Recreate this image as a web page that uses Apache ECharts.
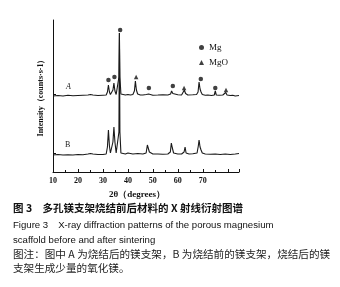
<!DOCTYPE html>
<html><head><meta charset="utf-8">
<script src="https://cdn.jsdelivr.net/npm/echarts@6/dist/echarts.min.js"></script>
<style>html,body{margin:0;padding:0;background:#fff}#c{width:340px;height:287px}</style>
</head><body><div id="c"></div>
<script>
// 2θ (degrees) and plotted intensity (stacked, arbitrary units) for pattern A (after sintering)
const patternA = [
[10,76],[12,76.5],[14,76],[16,76.8],[18,76.2],[20,76.5],[22,76.8],[24,77],[25,77.5],[26,77],[28,76.5],[30,76.8],
[31.3,77],[31.8,80],[32.2,87],[32.6,80],[33.0,77.5],[33.6,78],[34.0,82],[34.4,89],[34.8,81],[35.3,77.5],[36.0,78],
[36.4,95],[36.6,139],[36.8,95],[37.2,78],[38,77.5],[39,77],[40,77.5],[41,77],[42,77.5],[42.6,81],[43.0,91],[43.4,82],
[43.9,78],[45,77],[46,77],[47.4,77.5],[47.9,79.5],[48.3,78],[49,77],[50,76.8],[52,77],[54,77.3],[56,77],[57.1,78],
[57.5,81],[58,78.5],[58.5,77.5],[60,77.3],[61.5,77],[62.2,79],[62.6,82],[63.1,78.5],[64,77],[66,77.2],[67.5,77.5],
[68.1,80],[68.5,90],[68.9,83],[69.3,80],[69.8,77.5],[71,76.8],[72,77],[73.5,76.5],[74.6,77],[75,81],[75.4,77],
[76.5,76.8],[78,77],[78.8,78.5],[79.2,79.5],[79.7,77],[81,76.5],[82,76.8],[83,76],[84.5,76.5]
];
// pattern B (before sintering)
const patternB = [
[10,17],[12,17.5],[14,17],[16,17.3],[18,17],[20,17.5],[22,17.3],[24,18],[25,18.5],[26,18],[28,17.5],[30,17.5],
[31.3,18],[31.8,25],[32.2,42],[32.6,26],[33.0,19],[33.6,20],[34.0,30],[34.4,45],[34.8,30],[35.3,19],[36.0,19],
[36.4,40],[36.6,139],[36.8,40],[37.2,19],[38,18.5],[39,18],[40,19],[41,18.5],[42,18],[44,18.5],[46,18],[47.3,19],
[47.8,27],[48.2,26],[48.6,20],[49.2,18.5],[50,18],[52,18],[54,17.8],[56,18],[57.0,20],[57.4,29],[57.8,24],[58.3,19],
[60,18],[61.5,18],[62.5,20],[62.9,25],[63.3,19],[64.5,18],[66,18.2],[67.7,19],[68.2,26],[68.5,32],[68.9,25],[69.3,22],
[69.8,19],[71,18],[73,17.8],[75,18],[77,17.5],[79,18],[81,17.5],[83,18],[84.5,18.5]
];
// phase markers above pattern A
const mgMarks = [[32.2,92],[34.6,95],[36.9,142],[48.4,84],[58,86],[69.2,93],[75,84]];
const mgoMarks = [[43.3,95],[62.5,84],[79.3,82]];
const xTicks = [10,20,30,40,50,60,70,80];
const yTickValues = [19,78];
const captionLines = [
 '图 3　多孔镁支架烧结前后材料的 X 射线衍射图谱',
 'Figure 3　X-ray diffraction patterns of the porous magnesium',
 'scaffold before and after sintering',
 '图注：图中 A 为烧结后的镁支架，B 为烧结前的镁支架，烧结后的镁',
 '支架生成少量的氧化镁。'
];

const chart = echarts.init(document.getElementById('c'), null, {renderer:'canvas'});
const serif = '"Liberation Serif","DejaVu Serif",serif';
chart.setOption({
  animation:false,
  backgroundColor:'#fff',
  grid:{left:53,right:101,top:20,bottom:115},
  xAxis:{type:'value',min:10,max:84.5,interval:10,
    axisLine:{lineStyle:{color:'#111',width:1}},
    axisTick:{inside:true,length:3,lineStyle:{color:'#111'}},
    minorTick:{show:true,splitNumber:2,length:2,lineStyle:{color:'#111'}},
    splitLine:{show:false},
    axisLabel:{color:'#111',fontFamily:serif,fontWeight:'bold',fontSize:8,margin:5,
      customValues:xTicks,showMaxLabel:false},
    name:'2θ（degrees）',nameLocation:'middle',nameGap:17,
    nameTextStyle:{color:'#111',fontFamily:serif,fontWeight:'bold',fontSize:9,padding:[0,18,0,0]}
  },
  yAxis:{type:'value',min:0,max:152,
    axisLine:{show:true,lineStyle:{color:'#111',width:1}},
    axisTick:{show:true,inside:true,length:3,customValues:yTickValues,lineStyle:{color:'#111'}},
    axisLabel:{show:false},
    splitLine:{show:false},
    name:'Intensity（counts·s-1）',nameLocation:'middle',nameGap:8,nameRotate:90,
    nameTextStyle:{color:'#111',fontFamily:serif,fontWeight:'bold',fontSize:8,padding:[0,0,0,0]}
  },
  legend:{orient:'vertical',left:194,top:38,itemWidth:5,itemHeight:5,itemGap:6,
    textStyle:{color:'#111',fontFamily:serif,fontSize:9},
    data:[{name:'Mg',icon:'circle'},{name:'MgO',icon:'triangle'}]},
  series:[
    {type:'line',name:'A',data:patternA,showSymbol:false,lineStyle:{color:'#1a1a1a',width:1.1},z:3},
    {type:'line',name:'B',data:patternB,showSymbol:false,lineStyle:{color:'#1a1a1a',width:1.1},z:3},
    {type:'scatter',name:'Mg',data:mgMarks,symbol:'circle',symbolSize:4.5,itemStyle:{color:'#111'}},
    {type:'scatter',name:'MgO',data:mgoMarks,symbol:'triangle',symbolSize:4.5,itemStyle:{color:'#111'}}
  ],
  graphic:[
    {type:'text',left:66,top:83,style:{text:'A',font:'italic 8px '+serif,fill:'#222'}},
    {type:'text',left:65,top:141,style:{text:'B',font:'8px '+serif,fill:'#222'}},
    {type:'text',left:13,top:203,style:{text:captionLines[0],font:'bold 10.5px "Noto Sans CJK SC"',fill:'#111'}},
    {type:'text',left:13,top:220,style:{text:captionLines[1],font:'9.6px "Liberation Sans",Arial,sans-serif',fill:'#111'}},
    {type:'text',left:13,top:235,style:{text:captionLines[2],font:'9.6px "Liberation Sans",Arial,sans-serif',fill:'#111'}},
    {type:'text',left:13,top:249,style:{text:captionLines[3],font:'10.6px "Noto Sans CJK SC"',fill:'#222'}},
    {type:'text',left:13,top:263,style:{text:captionLines[4],font:'10.6px "Noto Sans CJK SC"',fill:'#222'}}
  ]
});
</script></body></html>
